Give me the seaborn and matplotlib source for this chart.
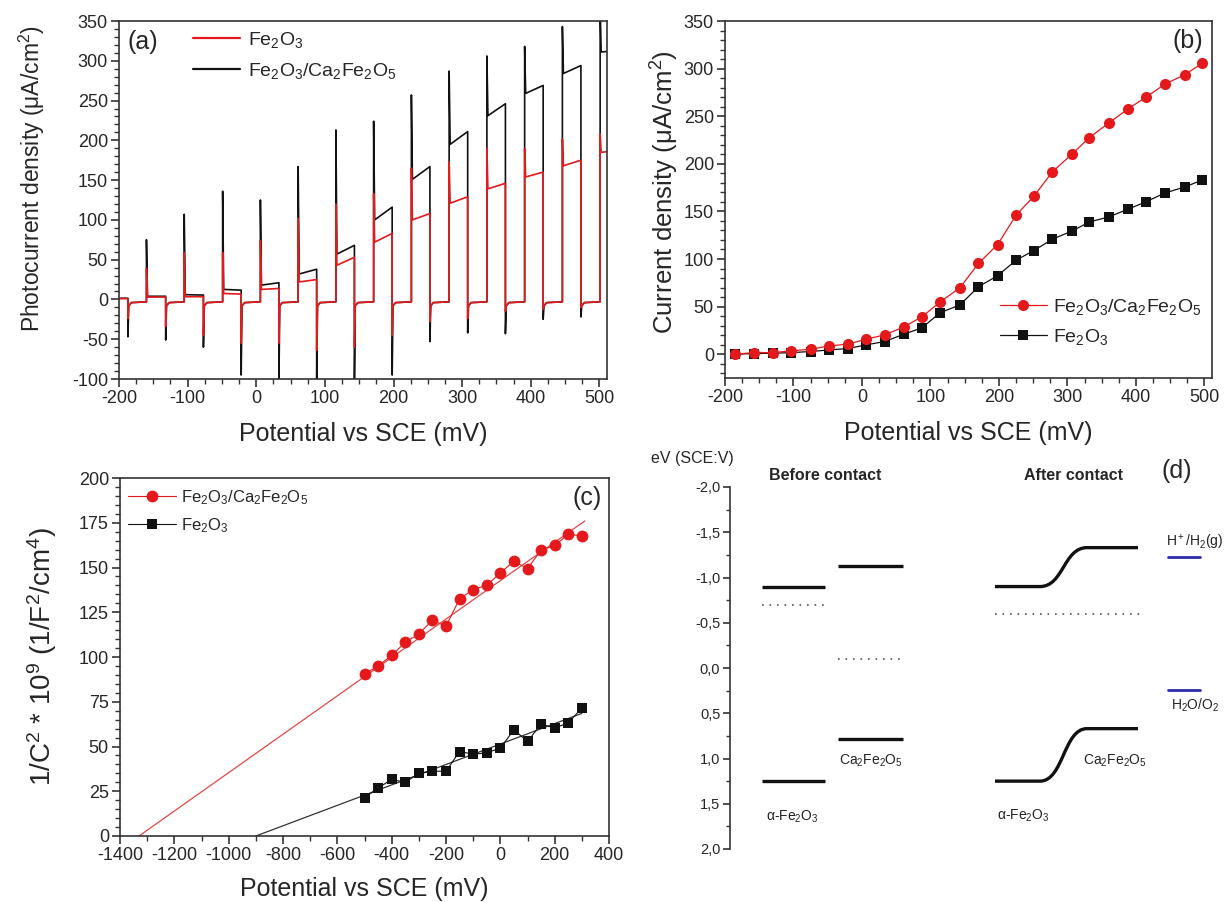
# recreate the four-panel photoelectrochemistry figure
import numpy as np
import matplotlib
matplotlib.use("Agg")
import matplotlib.pyplot as plt
import seaborn as sns
from matplotlib.lines import Line2D
from matplotlib.path import Path
from matplotlib.patches import PathPatch
from matplotlib.ticker import MultipleLocator, FuncFormatter

# ---------------- (a) chopped-light photocurrent ----------------
# light switched on / off (mV); the scan starts with the light on
on_mv = [-160, -105, -49, 6, 61, 116, 171, 226, 281, 336, 391, 446, 501]
off_mv = [-187, -132, -77, -22, 33, 88, 143, 198, 253, 308, 363, 418, 473]

# Fe2O3/Ca2Fe2O5 (black trace)
cs_first = 1.5
cs_peak = [75, 107, 136, 125, 167, 213, 224, 257, 287, 306, 318, 343, 370]
cs_start = [4, 6, 12.6, 18, 32, 57, 100, 151, 195, 231, 259, 284, 311]
cs_end = [4, 5.5, 11.7, 21, 38, 68, 116, 167, 211, 246, 269, 294]
cs_neg = [-47, -51, -60, -95, -105, -105, -105, -95, -53, -42, -43, -25, -22]

# Fe2O3 (red trace)
fe_first = 1.0
fe_peak = [39, 59, 59, 74, 102, 120, 133, 165, 173, 190, 190, 202, 208]
fe_start = [3, 3.4, 7.5, 12.6, 22, 43, 72, 100, 121, 139, 154, 168, 185]
fe_end = [3, 3.4, 6.7, 13.8, 25, 53, 83, 108, 129, 146, 160, 175]
fe_neg = [-24, -34, -45, -55, -55, -64, -60, -45, -28, -24, -15, -12, -10]
dark_level = -3

# ---------------- (b) current density vs potential ----------------
b_potential = [-185, -158, -130, -103, -75, -48, -21, 6, 33, 61, 88, 114, 143,
               170, 198, 225, 251, 278, 307, 332, 360, 389, 415, 442, 471, 497]
b_cs = [0, 1.7, 1.7, 3.5, 5.2, 8.7, 10.5, 15.7, 20.3, 28.6, 39.5, 54.8, 69.8,
        95.3, 115.2, 146, 166, 191.6, 210.5, 227.6, 242.7, 258, 270.2, 283.5,
        293.6, 305.5]
b_fe = [0, 0.7, 1, 1.7, 2.8, 4.5, 5.9, 9.8, 13.3, 20.9, 27.9, 43.6, 51.7,
        70.9, 82.4, 98.8, 108.9, 120.8, 129.5, 138.9, 144.1, 152.5, 160.2,
        169.3, 175.6, 183]

# ---------------- (c) Mott-Schottky ----------------
c_potential = [-500, -450, -400, -350, -300, -250, -200, -150, -100, -50, 0,
               50, 100, 150, 200, 250, 300]
c_cs = [90.5, 95.0, 100.9, 108.2, 112.9, 120.5, 117.2, 132.5, 137.7, 140.1,
        147.0, 153.5, 149.4, 159.7, 162.3, 168.5, 167.7]
c_fe = [21.5, 26.7, 31.7, 29.9, 35.1, 36.2, 36.2, 47.2, 45.7, 46.5, 49.1,
        59.3, 52.8, 62.5, 60.3, 63.2, 71.5]
cs_fit_x = [-1330, 311]
cs_fit_y = [0, 176]
fe_fit_x = [-900, 300]
fe_fit_y = [0, 68.5]

# ---------------- (d) band diagram (eV vs SCE) ----------------
before_cb = [-0.9, -1.13]     # alpha-Fe2O3, Ca2Fe2O5
before_vb = [1.25, 0.78]
before_ef = [-0.7, -0.1]
after_cb = [-0.9, -1.33]
after_vb = [1.25, 0.67]
after_ef = -0.6
redox = [-1.23, 0.24]         # H+/H2, H2O/O2

red = "#e3191c"
black = "#111111"
blue = "#2b2bb0"


def chopped_trace(first, peak, start, end, neg):
    # build the chopped-light trace from the read key values
    xs = [-200, off_mv[0]]
    ys = [first, first]
    for k in range(len(off_mv)):
        o = off_mv[k]
        xs += [o, o + 1.2, o + 5, on_mv[k]]
        ys += [neg[k], dark_level - 5, dark_level - 1, dark_level]
        n = on_mv[k]
        xs += [n, n + 1.5]
        ys += [peak[k], start[k]]
        if k + 1 < len(off_mv):
            xs.append(off_mv[k + 1])
            ys.append(end[k])
        else:
            xs.append(515)
            ys.append(start[k] + 1)
    return xs, ys


sns.set_style("ticks")
plt.rcParams['font.family'] = ['Liberation Sans', 'DejaVu Sans']
plt.rcParams['mathtext.fontset'] = 'custom'
plt.rcParams['mathtext.rm'] = 'Liberation Sans'
plt.rcParams['mathtext.it'] = 'Liberation Sans:italic'
plt.rcParams['mathtext.bf'] = 'Liberation Sans:bold'
plt.rcParams['axes.unicode_minus'] = False

W, H = 1226, 902
fig = plt.figure(figsize=(W / 100, H / 100), dpi=100)


def box(l, t, r, b):
    return [l / W, 1 - b / H, (r - l) / W, (b - t) / H]


def frame(ax):
    for s in ax.spines.values():
        s.set_linewidth(1.2)
        s.set_color('#333333')
        s.set_visible(True)
    ax.tick_params(which='both', direction='out', top=False, right=False,
                   color='#333333', labelsize=13, pad=2)
    ax.tick_params(which='major', length=6, width=1.2)
    ax.tick_params(which='minor', length=3.5, width=1)


CS = "Fe$_2$O$_3$/Ca$_2$Fe$_2$O$_5$"
FE = "Fe$_2$O$_3$"

# ---- panel (a)
ax = fig.add_axes(box(119, 21, 607, 379))
x, y = chopped_trace(cs_first, cs_peak, cs_start, cs_end, cs_neg)
sns.lineplot(x=x, y=y, ax=ax, sort=False, estimator=None, color=black, lw=1.2)
x, y = chopped_trace(fe_first, fe_peak, fe_start, fe_end, fe_neg)
sns.lineplot(x=x, y=y, ax=ax, sort=False, estimator=None, color=red, lw=1.2)
ax.set_xlim(-200, 511)
ax.set_ylim(-100, 350)
ax.xaxis.set_major_locator(MultipleLocator(100))
ax.xaxis.set_minor_locator(MultipleLocator(25))
ax.yaxis.set_major_locator(MultipleLocator(50))
ax.yaxis.set_minor_locator(MultipleLocator(10))
frame(ax)
ax.set_xlabel("Potential vs SCE (mV)", fontsize=18)
ax.set_ylabel("Photocurrent density (μA/cm$^2$)", fontsize=16.5)
ax.xaxis.set_label_coords(0.5, -0.12)
ax.yaxis.set_label_coords(-0.148, 0.56)
ax.text(0.018, 0.94, "(a)", transform=ax.transAxes, fontsize=18, va='center')
handles = [Line2D([], [], color=red, lw=1.6), Line2D([], [], color=black, lw=1.6)]
ax.legend(handles, [FE, CS], loc='upper left', bbox_to_anchor=(0.152, 0.975),
          frameon=False, fontsize=14, handlelength=2.4, handletextpad=0.4,
          borderpad=0, borderaxespad=0, labelspacing=0.55)

# ---- panel (b)
ax = fig.add_axes(box(725, 21, 1212, 378))
sns.lineplot(x=b_potential, y=b_fe, ax=ax, color=black, lw=0.9, marker='s',
             markersize=7, markeredgewidth=0, sort=False, estimator=None)
sns.lineplot(x=b_potential, y=b_cs, ax=ax, color=red, lw=0.9, marker='o',
             markersize=8, markeredgewidth=0, sort=False, estimator=None)
ax.set_xlim(-200, 511)
ax.set_ylim(-25, 350)
ax.xaxis.set_major_locator(MultipleLocator(100))
ax.xaxis.set_minor_locator(MultipleLocator(25))
ax.yaxis.set_major_locator(MultipleLocator(50))
ax.yaxis.set_minor_locator(MultipleLocator(10))
frame(ax)
ax.set_xlabel("Potential vs SCE (mV)", fontsize=18)
ax.set_ylabel("Current density (μA/cm$^2$)", fontsize=18.5)
ax.xaxis.set_label_coords(0.5, -0.12)
ax.yaxis.set_label_coords(-0.09, 0.52)
ax.text(0.981, 0.944, "(b)", transform=ax.transAxes, fontsize=18,
        va='center', ha='right')
handles = [Line2D([], [], color=red, lw=0.9, marker='o', ms=8, mew=0),
           Line2D([], [], color=black, lw=0.9, marker='s', ms=7, mew=0)]
ax.legend(handles, [CS, FE], loc='upper left', bbox_to_anchor=(0.565, 0.228),
          frameon=False, fontsize=14, handlelength=2.4, handletextpad=0.3,
          borderpad=0, borderaxespad=0, labelspacing=0.55)

# ---- panel (c)
ax = fig.add_axes(box(120, 478, 609, 836))
sns.lineplot(x=cs_fit_x, y=cs_fit_y, ax=ax, color="#e04848", lw=0.9)
sns.lineplot(x=fe_fit_x, y=fe_fit_y, ax=ax, color="#333333", lw=0.9)
sns.lineplot(x=c_potential, y=c_cs, ax=ax, color=red, lw=0.8, marker='o',
             markersize=8.5, markeredgewidth=0, sort=False, estimator=None)
sns.lineplot(x=c_potential, y=c_fe, ax=ax, color=black, lw=0.8, marker='s',
             markersize=7.5, markeredgewidth=0, sort=False, estimator=None)
ax.set_xlim(-1400, 400)
ax.set_ylim(0, 200)
ax.xaxis.set_major_locator(MultipleLocator(200))
ax.xaxis.set_minor_locator(MultipleLocator(100))
ax.yaxis.set_major_locator(MultipleLocator(25))
ax.yaxis.set_minor_locator(MultipleLocator(5))
frame(ax)
ax.set_xlabel("Potential vs SCE (mV)", fontsize=18)
ax.set_ylabel("1/C$^2$ * 10$^9$ (1/F$^2$/cm$^4$)", fontsize=20)
ax.xaxis.set_label_coords(0.5, -0.115)
ax.yaxis.set_label_coords(-0.125, 0.5)
ax.text(0.986, 0.944, "(c)", transform=ax.transAxes, fontsize=18,
        va='center', ha='right')
handles = [Line2D([], [], color=red, lw=0.8, marker='o', ms=8.5, mew=0),
           Line2D([], [], color=black, lw=0.8, marker='s', ms=7.5, mew=0)]
ax.legend(handles, [CS, FE], loc='upper left', bbox_to_anchor=(0.016, 0.972),
          frameon=False, fontsize=12, handlelength=2.9, handletextpad=0.3,
          borderpad=0, borderaxespad=0, labelspacing=0.55)

# ---- panel (d) band alignment schematic
ax = fig.add_axes(box(730, 487, 1226, 849))
ax.set_xlim(0, 496)
ax.set_ylim(2, -2)
for s in ['top', 'right', 'bottom']:
    ax.spines[s].set_visible(False)
ax.spines['left'].set_linewidth(1.2)
ax.spines['left'].set_color('#333333')
ax.set_xticks([])
ax.yaxis.set_major_locator(MultipleLocator(0.5))
ax.yaxis.set_minor_locator(MultipleLocator(0.25))
ax.yaxis.set_major_formatter(FuncFormatter(lambda v, p: f"{v:.1f}".replace('.', ',')))
ax.tick_params(axis='y', which='both', direction='out', labelsize=10.5,
               color='#333333', pad=2)
ax.tick_params(axis='y', which='major', length=5, width=1.2)
ax.tick_params(axis='y', which='minor', length=3, width=1)
ax.patch.set_alpha(0)

# before contact: flat levels
block_x = [(32, 95), (108, 173)]
for (x0, x1), cb, vb, ef in zip(block_x, before_cb, before_vb, before_ef):
    ax.plot([x0, x1], [cb, cb], color=black, lw=2.4, solid_capstyle='butt')
    ax.plot([x0, x1], [vb, vb], color=black, lw=2.4, solid_capstyle='butt')
    ax.plot([x0, x1], [ef, ef], color='#555555', lw=1.2, ls=(0, (1, 3.5)))

# after contact: bent bands drawn as smooth steps
ax_start, bend0, bend1, ax_stop = 265, 310, 357, 408
mid = (bend0 + bend1) / 2
for lo, hi in [after_cb, after_vb]:
    verts = [(ax_start, lo), (bend0, lo), (mid, lo), (mid, hi), (bend1, hi), (ax_stop, hi)]
    codes = [Path.MOVETO, Path.LINETO, Path.CURVE4, Path.CURVE4, Path.CURVE4, Path.LINETO]
    ax.add_patch(PathPatch(Path(verts, codes), fill=False, edgecolor=black,
                           lw=2.4, capstyle='butt'))
ax.plot([ax_start, 412], [after_ef, after_ef], color='#555555', lw=1.2,
        ls=(0, (1, 3.5)))

# water redox levels
for lvl in redox:
    ax.plot([438, 470], [lvl, lvl], color=blue, lw=2)

lab = dict(fontsize=10, ha='center', va='center', color='#222222')
ax.text(62, 1.646, "α-Fe$_2$O$_3$", **lab)
ax.text(141, 1.02, "Ca$_2$Fe$_2$O$_5$", **lab)
ax.text(293, 1.632, "α-Fe$_2$O$_3$", **lab)
ax.text(385, 1.02, "Ca$_2$Fe$_2$O$_5$", **lab)
ax.text(465, -1.385, "H$^+$/H$_2$(g)", **lab)
ax.text(465, 0.41, "H$_2$O/O$_2$", **lab)

fig.text(692 / W, 1 - 458 / H, "eV (SCE:V)", fontsize=11.5, ha='center', va='center')
fig.text(825 / W, 1 - 475 / H, "Before contact", fontsize=11.5, ha='center',
         va='center', fontweight='bold')
fig.text(1073 / W, 1 - 475 / H, "After contact", fontsize=11.5, ha='center',
         va='center', fontweight='bold')
fig.text(1177 / W, 1 - 471 / H, "(d)", fontsize=18, ha='center', va='center')

fig.savefig("out.png", dpi=100)
